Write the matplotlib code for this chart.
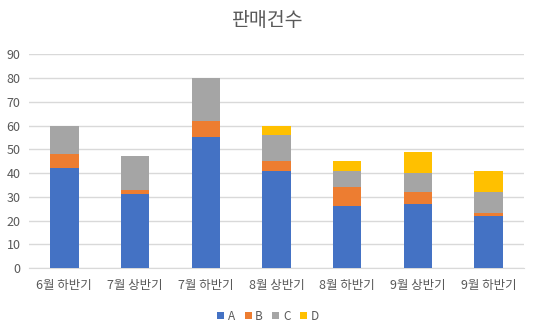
import matplotlib
matplotlib.use("Agg")
import matplotlib.pyplot as plt
import numpy as np

plt.rcParams['font.family'] = ['Noto Sans CJK KR', 'DejaVu Sans']

categories = ["6월 하반기", "7월 상반기", "7월 하반기", "8월 상반기", "8월 하반기", "9월 상반기", "9월 하반기"]
series_names = ["A", "B", "C", "D"]
a_vals = [42, 31, 55, 41, 26, 27, 22]
b_vals = [6, 2, 7, 4, 8, 5, 1]
c_vals = [12, 14, 18, 11, 7, 8, 9]
d_vals = [0, 0, 0, 4, 4, 9, 9]
colors = ["#4472C4", "#ED7D31", "#A5A5A5", "#FFC000"]
y_ticks = [0, 10, 20, 30, 40, 50, 60, 70, 80, 90]

fig = plt.figure(figsize=(5.36, 3.31), dpi=100)
ax = fig.add_axes([29 / 536, 1 - 268 / 331, (524 - 29) / 536, (268 - 54.3) / 331])

x = np.arange(len(categories))
bottom = np.zeros(len(categories))
handles = []
for name, vals, col in zip(series_names, [a_vals, b_vals, c_vals, d_vals], colors):
    h = ax.bar(x, vals, width=0.4, bottom=bottom, color=col, label=name, zorder=3)
    handles.append(h)
    bottom += np.array(vals)

ax.set_xlim(-0.5, len(categories) - 0.5)
ax.set_ylim(0, 90)
ax.set_yticks(y_ticks)
ax.yaxis.grid(True, color="#D9D9D9", linewidth=1, zorder=0)
ax.set_axisbelow(True)
for s in ["top", "right", "left"]:
    ax.spines[s].set_visible(False)
ax.spines["bottom"].set_color("#D9D9D9")
ax.tick_params(axis="both", length=0, colors="#595959", labelsize=9)
ax.tick_params(axis="x", pad=8)
ax.tick_params(axis="y", pad=6)
ax.set_xticks(x)
ax.set_xticklabels(categories)

fig.text(0.5, 1 - 20 / 331, "판매건수", ha="center", va="center", fontsize=14, color="#595959")

fig.legend(handles=handles, labels=series_names, loc="center", bbox_to_anchor=(0.5, 1 - 316 / 331),
           ncol=4, frameon=False, fontsize=8.5, handlelength=0.6, handleheight=0.6,
           handletextpad=0.3, columnspacing=0.8, labelcolor="#595959")

fig.savefig("out.png", dpi=100)
